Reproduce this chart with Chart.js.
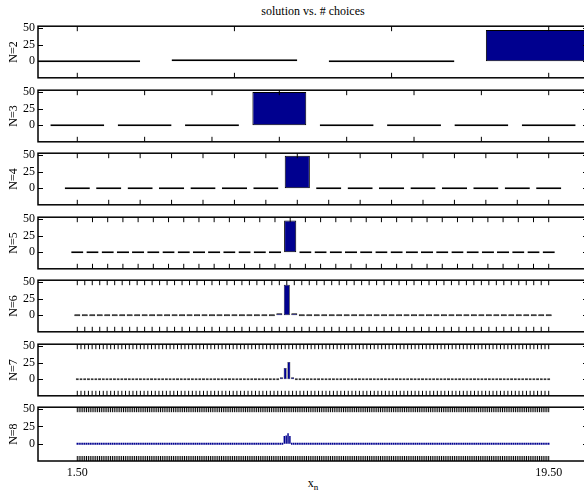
<!DOCTYPE html>
<html>
<head>
<meta charset="utf-8">
<script src="https://cdn.jsdelivr.net/npm/chart.js@4.4.1/dist/chart.umd.min.js"></script>
<style>
  html, body { margin: 0; padding: 0; background: #fff; overflow: hidden; }
  #wrap { position: relative; width: 584px; height: 492px; overflow: hidden; }
  #wrap canvas { position: absolute; left: 0; }
  #title { position: absolute; left: 38px; width: 550px; top: 4px; text-align: center;
           font: 12px "Liberation Serif", serif; color: #000; }
  #xlabel { position: absolute; left: 38px; width: 550px; top: 476px; text-align: center;
            font: 12px "Liberation Serif", serif; color: #000; }
  #xlabel sub { font-size: 9px; }
</style>
</head>
<body>
<div id="wrap">
  <div id="title">solution vs. # choices</div>
  <div id="xlabel">x<sub>n</sub></div>
</div>
<script>
// bin centres run from 1.5 to 19.5 in every panel, 2^N bins each
const binStart = 1.5;
const binEnd = 19.5;
const xTickLabels = [1.5, 19.5];
const yTicks = [0, 25, 50];
const choices = [2, 3, 4, 5, 6, 7, 8];

const sol2 = [0, 1, 0, 47];
const sol3 = [0, 0, 0, 50, 0, 0, 0, 0];
const sol4 = [0, 0, 0, 0, 0, 0, 0, 49, 0, 0, 0, 0, 0, 0, 0, 0];
const sol5 = [
  0, 0, 0, 0, 0, 0, 0, 0, 0, 0, 0, 0, 0, 0, 48, 0,
  0, 0, 0, 0, 0, 0, 0, 0, 0, 0, 0, 0, 0, 0, 0, 0
];
const sol6 = [
  0, 0, 0, 0, 0, 0, 0, 0, 0, 0, 0, 0, 0, 0, 0, 0,
  0, 0, 0, 0, 0, 0, 0, 0, 0, 0, 0, 2, 46, 1, 0, 0,
  0, 0, 0, 0, 0, 0, 0, 0, 0, 0, 0, 0, 0, 0, 0, 0,
  0, 0, 0, 0, 0, 0, 0, 0, 0, 0, 0, 0, 0, 0, 0, 0
];
const sol7 = [
  0, 0, 0, 0, 0, 0, 0, 0, 0, 0, 0, 0, 0, 0, 0, 0,
  0, 0, 0, 0, 0, 0, 0, 0, 0, 0, 0, 0, 0, 0, 0, 0,
  0, 0, 0, 0, 0, 0, 0, 0, 0, 0, 0, 0, 0, 0, 0, 0,
  0, 0, 0, 0, 0, 0, 0, 1, 17, 26, 1, 0, 0, 0, 0, 0,
  0, 0, 0, 0, 0, 0, 0, 0, 0, 0, 0, 0, 0, 0, 0, 0,
  0, 0, 0, 0, 0, 0, 0, 0, 0, 0, 0, 0, 0, 0, 0, 0,
  0, 0, 0, 0, 0, 0, 0, 0, 0, 0, 0, 0, 0, 0, 0, 0,
  0, 0, 0, 0, 0, 0, 0, 0, 0, 0, 0, 0, 0, 0, 0, 0
];
const sol8 = [
  0, 0, 0, 0, 0, 0, 0, 0, 0, 0, 0, 0, 0, 0, 0, 0, 0, 0, 0, 0, 0, 0, 0, 0, 0, 0, 0, 0, 0, 0, 0, 0,
  0, 0, 0, 0, 0, 0, 0, 0, 0, 0, 0, 0, 0, 0, 0, 0, 0, 0, 0, 0, 0, 0, 0, 0, 0, 0, 0, 0, 0, 0, 0, 0,
  0, 0, 0, 0, 0, 0, 0, 0, 0, 0, 0, 0, 0, 0, 0, 0, 0, 0, 0, 0, 0, 0, 0, 0, 0, 0, 0, 0, 0, 0, 0, 0,
  0, 0, 0, 0, 0, 0, 0, 0, 0, 0, 0, 0, 0, 0, 0, 0, 11, 12, 15, 11, 0, 0, 0, 0, 0, 0, 0, 0, 0, 0, 0, 0,
  0, 0, 0, 0, 0, 0, 0, 0, 0, 0, 0, 0, 0, 0, 0, 0, 0, 0, 0, 0, 0, 0, 0, 0, 0, 0, 0, 0, 0, 0, 0, 0,
  0, 0, 0, 0, 0, 0, 0, 0, 0, 0, 0, 0, 0, 0, 0, 0, 0, 0, 0, 0, 0, 0, 0, 0, 0, 0, 0, 0, 0, 0, 0, 0,
  0, 0, 0, 0, 0, 0, 0, 0, 0, 0, 0, 0, 0, 0, 0, 0, 0, 0, 0, 0, 0, 0, 0, 0, 0, 0, 0, 0, 0, 0, 0, 0,
  0, 0, 0, 0, 0, 0, 0, 0, 0, 0, 0, 0, 0, 0, 0, 0, 0, 0, 0, 0, 0, 0, 0, 0, 0, 0, 0, 0, 0, 0, 0, 0
];
const solutions = [sol2, sol3, sol4, sol5, sol6, sol7, sol8];

const barFill = '#00008f';
const edgeColor = '#000';
const font = { family: "'Liberation Serif', serif", size: 12 };

// panel layout (px)
const firstTop = 24;
const panelStep = 63.5;
const panelH = 56;
const padTop = 8;
const axisLeft = 38;
const xAxisH = 22;

// matlab-style box with inward ticks on all four sides
const boxPlugin = {
  id: 'box',
  afterDatasetsDraw(chart) {
    const { ctx, chartArea: a, scales } = chart;
    const xs = chart.data.datasets[0].data.map(p => scales.x.getPixelForValue(p.x));
    const tl = 5;
    ctx.save();
    ctx.strokeStyle = '#000';
    ctx.lineWidth = 1;
    ctx.beginPath();
    xs.forEach(px => {
      ctx.moveTo(px, a.top); ctx.lineTo(px, a.top + tl);
      ctx.moveTo(px, a.bottom); ctx.lineTo(px, a.bottom - tl);
    });
    yTicks.forEach(v => {
      const py = Math.round(scales.y.getPixelForValue(v)) + 0.5;
      ctx.moveTo(a.left, py); ctx.lineTo(a.left + tl, py);
      ctx.moveTo(a.right, py); ctx.lineTo(a.right - tl, py);
    });
    ctx.stroke();
    ctx.lineWidth = 1.5;
    ctx.strokeRect(a.left, a.top, a.right - a.left, a.bottom - a.top);
    ctx.restore();
  }
};

function makePanel(idx) {
  const values = solutions[idx];
  const isLast = idx === solutions.length - 1;
  const n = values.length;
  const step = (binEnd - binStart) / (n - 1);
  const pts = values.map((v, i) => ({ x: binStart + i * step, y: v }));
  // thinner bar edges as the bars get narrower
  const edgeW = n > 200 ? 0 : n > 100 ? 0.5 : n > 50 ? 0.7 : 1;
  // empty bins only show their edge (black), except the densest panel where it looks blue
  const fills = values.map(v => (v === 0 && n < 200) ? edgeColor : barFill);

  const canvas = document.createElement('canvas');
  canvas.width = 588;
  canvas.height = padTop + panelH + (isLast ? xAxisH : 8);
  canvas.style.top = Math.round(firstTop + idx * panelStep - padTop) + 'px';
  document.getElementById('wrap').appendChild(canvas);

  return new Chart(canvas, {
    type: 'bar',
    data: {
      datasets: [{
        data: pts,
        backgroundColor: fills,
        borderColor: edgeColor,
        borderWidth: edgeW,
        borderSkipped: false,
        minBarLength: 2,
        inflateAmount: 0,
        barPercentage: 1,
        categoryPercentage: 0.8,
        clip: 0
      }]
    },
    options: {
      responsive: false,
      animation: false,
      events: [],
      layout: { padding: { top: padTop, bottom: isLast ? 0 : 8, left: 0, right: 0 } },
      plugins: { legend: { display: false }, tooltip: { enabled: false } },
      scales: {
        x: {
          type: 'linear',
          min: 0,
          max: 21,
          offset: false,
          grid: { display: false, drawTicks: false },
          border: { display: false },
          ticks: {
            display: isLast,
            font,
            color: '#000',
            padding: 5,
            maxRotation: 0,
            autoSkip: false,
            callback: v => v.toFixed(2)
          },
          afterBuildTicks: s => { s.ticks = xTickLabels.map(v => ({ value: v })); },
          afterFit: s => { s.height = isLast ? xAxisH : 0; }
        },
        y: {
          min: -25,
          max: 52.8,
          grid: { display: false, drawTicks: false },
          border: { display: false },
          ticks: { font, color: '#000', padding: 3 },
          afterBuildTicks: s => { s.ticks = yTicks.map(v => ({ value: v })); },
          afterFit: s => { s.width = axisLeft; },
          title: {
            display: true,
            text: 'N=' + choices[idx],
            font,
            color: '#000',
            padding: { top: 7, bottom: 0 }
          }
        }
      }
    },
    plugins: [boxPlugin]
  });
}

document.fonts.load("12px 'Liberation Serif'").then(() => {
  solutions.forEach((_, i) => makePanel(i));
});
</script>
</body>
</html>
